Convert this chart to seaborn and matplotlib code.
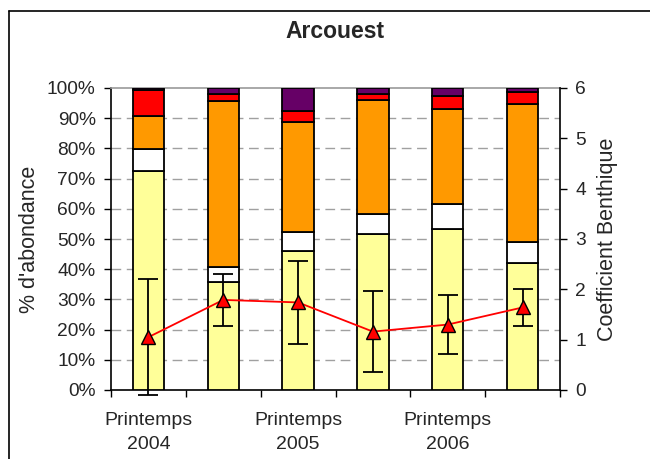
import numpy as np
import pandas as pd
import matplotlib
matplotlib.use("Agg")
import matplotlib.pyplot as plt
from matplotlib.lines import Line2D
import seaborn as sns

# Sampling campaigns (one bar each)
campaigns = ["P2004", "A2004", "P2005", "A2005", "P2006", "A2006"]
tick_labels = ["Printemps\n2004", "", "Printemps\n2005", "", "Printemps\n2006", ""]

# Relative abundance (%) of the five ecological groups, bottom to top
group_1 = [72.5, 35.9, 46.1, 51.7, 53.4, 42.1]
group_2 = [7.2, 4.9, 6.2, 6.6, 8.1, 7.0]
group_3 = [11.1, 54.9, 36.5, 37.7, 31.5, 45.6]
group_4 = [8.5, 2.2, 3.6, 1.9, 4.4, 3.9]
group_5 = [0.7, 2.1, 7.6, 2.1, 2.6, 1.4]
group_colors = ["#FFFF99", "#FFFFFF", "#FF9900", "#FF0000", "#660066"]

# Benthic coefficient: mean and error
coef_mean = [1.05, 1.79, 1.74, 1.16, 1.30, 1.64]
coef_err = [1.15, 0.51, 0.83, 0.80, 0.59, 0.37]

sns.set_theme(style="white")
plt.rcParams["font.family"] = ["Liberation Sans", "DejaVu Sans"]

fig = plt.figure(figsize=(6.5, 4.59), dpi=100)
ax = fig.add_axes([111 / 650, 1 - 390 / 459, 449 / 650, 302 / 459])

groups = [group_1, group_2, group_3, group_4, group_5]
bottom = np.zeros(len(campaigns))
for vals, col in zip(groups, group_colors):
    df = pd.DataFrame({"campaign": campaigns, "value": vals})
    sns.barplot(data=df, x="campaign", y="value", order=campaigns, color=col,
                bottom=bottom, width=0.42, edgecolor="black", linewidth=1.3,
                saturation=1, ax=ax, zorder=3)
    bottom = bottom + np.array(vals)

ax.set_xlim(-0.5, len(campaigns) - 0.5)
ax.set_ylim(0, 100)
ax.set_yticks(np.arange(0, 101, 10))
ax.set_yticklabels([f"{v}%" for v in range(0, 101, 10)])
for v in range(10, 100, 10):
    ax.axhline(v, color="#a0a0a0", linestyle=(0, (7, 4)), linewidth=1.0, zorder=1)

# Category ticks between bars, labels under every other bar
ax.set_xticks(np.arange(-0.5, len(campaigns), 1.0))
ax.set_xticklabels([""] * (len(campaigns) + 1))
ax.set_xticks(np.arange(len(campaigns)), minor=True)
ax.set_xticklabels(tick_labels, minor=True, fontsize=14, linespacing=1.55)
ax.tick_params(axis="x", which="minor", length=0, pad=16)
ax.tick_params(axis="x", which="major", length=5, width=1, color="black",
               direction="out", bottom=True)
ax.tick_params(axis="y", length=5, width=1, color="black", direction="out",
               left=True, labelsize=13.8, pad=6)
ax.set_xlabel("")
ax.set_ylabel("% d'abondance", fontsize=15.5, labelpad=5)

for side in ["left", "bottom"]:
    ax.spines[side].set_color("black")
    ax.spines[side].set_linewidth(1.2)
ax.spines["top"].set_color("#999999")
ax.spines["top"].set_linewidth(1.2)
ax.spines["right"].set_visible(False)

# Benthic coefficient on the secondary axis
ax2 = ax.twinx()
x = np.arange(len(campaigns))
eb = ax2.errorbar(x, coef_mean, yerr=coef_err, fmt="none", ecolor="black",
                  elinewidth=1.3, capsize=7, capthick=1.3, zorder=4)
for artist in eb.lines[1] + eb.lines[2]:
    artist.set_clip_on(False)
sns.lineplot(x=x, y=coef_mean, ax=ax2, color="red", linewidth=1.3,
             marker="^", markersize=10.5, markerfacecolor="red",
             markeredgecolor="black", markeredgewidth=1.0, zorder=5)
ax2.set_ylim(0, 6)
ax2.set_yticks(range(0, 7))
ax2.tick_params(axis="y", length=5, width=1, color="black", direction="out",
                right=True, labelsize=13.8, pad=6)
ax2.set_ylabel("Coefficient Benthique", fontsize=15.5, labelpad=8)
ax2.grid(False)
for side in ["left", "top", "bottom"]:
    ax2.spines[side].set_visible(False)
ax2.spines["right"].set_color("black")
ax2.spines["right"].set_linewidth(1.2)

fig.text(335 / 650, 1 - 32 / 459, "Arcouest", ha="center", va="center",
         fontsize=16.5, fontweight="bold")

# Chart frame
fig.add_artist(Line2D([9 / 650, 9 / 650], [0, 1 - 11 / 459], color="black",
                      linewidth=1.2, transform=fig.transFigure))
fig.add_artist(Line2D([9 / 650, 1], [1 - 11 / 459, 1 - 11 / 459], color="black",
                      linewidth=1.2, transform=fig.transFigure))

fig.savefig("out.png", dpi=100)
